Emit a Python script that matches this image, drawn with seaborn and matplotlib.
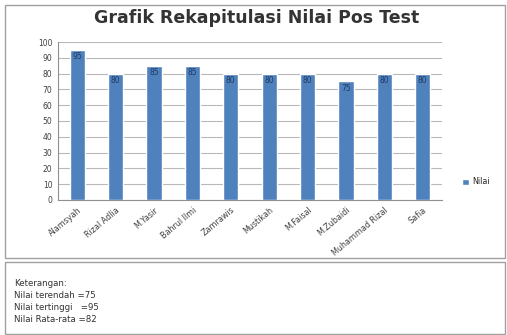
import matplotlib
matplotlib.use("Agg")
import matplotlib.pyplot as plt
import seaborn as sns
import pandas as pd
from matplotlib.patches import Rectangle, Patch

names = ["Alamsyah", "Rizal Adlia", "M.Yasir", "Bahrul Ilmi", "Zamrawis",
         "Mustikah", "M.Faisal", "M.Zubaidi", "Muhammad Rizal", "Safia"]
nilai = [95, 80, 85, 85, 80, 80, 80, 75, 80, 80]
yticks = list(range(0, 101, 10))
title = "Grafik Rekapitulasi Nilai Pos Test"
notes = ["Keterangan:", "Nilai terendah =75", "Nilai tertinggi   =95", "Nilai Rata-rata =82"]

sns.set_theme(style="white")
plt.rcParams['font.family'] = ['DejaVu Sans']

W, H = 507, 335
fig = plt.figure(figsize=(W / 100, H / 100), dpi=100)
fig.patch.set_facecolor("white")

# outer chart box and notes box
fig.patches.append(Rectangle((5 / W, 1 - 258 / H), 500 / W, 253 / H, transform=fig.transFigure,
                             fill=False, edgecolor="#a0a0a0", linewidth=1))
fig.patches.append(Rectangle((5 / W, 1 - 334 / H), 500 / W, 72 / H, transform=fig.transFigure,
                             fill=False, edgecolor="#a0a0a0", linewidth=1))

ax = fig.add_axes([58 / W, 1 - 200 / H, 384 / W, 158 / H])
df = pd.DataFrame({"Nama": names, "Nilai": nilai})
sns.barplot(data=df, x="Nama", y="Nilai", color="#4F81BD", saturation=1, width=0.4, ax=ax, zorder=3)
ax.set_ylim(0, 100)
ax.set_yticks(yticks)
ax.set_yticklabels([str(v) for v in yticks], fontsize=5.5, color="#404040")
ax.set_xlim(-0.5, len(names) - 0.5)
ax.set_xticks(range(len(names)))
ax.set_xticklabels(names, rotation=40, ha="right", rotation_mode="anchor", fontsize=5.8, color="#404040")
ax.set_xlabel("")
ax.set_ylabel("")
ax.grid(axis="y", color="#b8b8b8", linewidth=0.8, zorder=0)
for s in ["top", "right"]:
    ax.spines[s].set_visible(False)
for s in ["left", "bottom"]:
    ax.spines[s].set_color("#909090")
    ax.spines[s].set_linewidth(0.8)
ax.tick_params(axis="both", length=2, pad=2, color="#909090")
ax.bar_label(ax.containers[0], labels=[str(v) for v in nilai], padding=-8, fontsize=5.5,
             color="#1f3a66")

fig.text(257 / W, 1 - 18 / H, title, ha="center", va="center", fontsize=12.5,
         fontweight="bold", color="#333333")

fig.legend(handles=[Patch(facecolor="#4F81BD")], labels=["Nilai"], loc="center left",
           bbox_to_anchor=(455 / W, 1 - 182 / H), frameon=False, fontsize=5.8,
           handlelength=0.8, handleheight=0.8, handletextpad=0.4)

for i, line in enumerate(notes):
    fig.text(14 / W, 1 - (283 + i * 12.3) / H, line, ha="left", va="center", fontsize=6.2,
             color="#333333")

fig.savefig("out.png", dpi=100)
